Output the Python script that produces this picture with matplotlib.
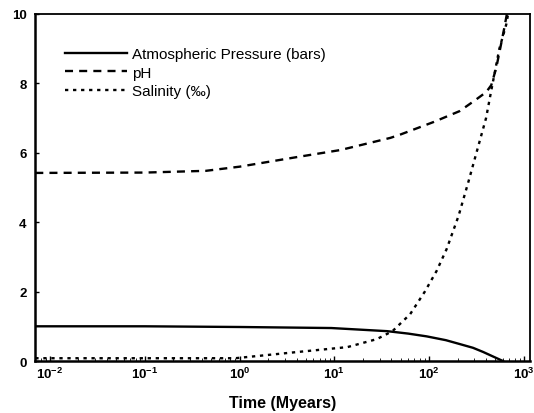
#!/usr/bin/env python3
"""Atmospheric pressure, pH and salinity over time (log scale)."""

import matplotlib
matplotlib.use("Agg")
import matplotlib.pyplot as plt

# Values (time in Myears)
pressure_t = [0.007, 0.1, 1, 9.3, 36, 60, 94, 150, 209, 290, 371, 480, 600]
pressure_v = [1.0, 1.0, 0.98, 0.95, 0.86, 0.79, 0.71, 0.6, 0.49, 0.38, 0.26, 0.12, 0.0]

ph_t = [0.007, 0.1, 0.44, 1, 4.1, 11.6, 39, 49, 112, 209, 300, 400, 452, 510, 575, 620, 660]
ph_v = [5.42, 5.43, 5.48, 5.6, 5.88, 6.08, 6.43, 6.52, 6.89, 7.2, 7.5, 7.75, 7.95, 8.45, 9.15, 9.6, 10.0]

sal_t = [0.007, 0.9, 4.1, 13.7, 28, 41, 63, 90, 120, 153, 204, 259, 338, 398, 452, 550, 650, 680]
sal_v = [0.08, 0.08, 0.26, 0.40, 0.63, 0.86, 1.35, 2.0, 2.6, 3.23, 4.18, 5.16, 6.3, 7.0, 7.8, 9.0, 9.7, 10.0]

series_labels = ["Atmospheric Pressure (bars)", "pH", "Salinity (\u2030)"]
y_ticks = [0, 2, 4, 6, 8, 10]

plt.rcParams["font.family"] = ["Liberation Sans", "DejaVu Sans"]
plt.rcParams["mathtext.fontset"] = "custom"
plt.rcParams["mathtext.rm"] = "Liberation Sans:bold"
plt.rcParams["mathtext.it"] = "Liberation Sans:bold"

fig = plt.figure(figsize=(5.34, 4.14), dpi=100)
ax = fig.add_axes([0.0655, 0.1256, 0.927, 0.8382])

ax.plot(pressure_t, pressure_v, color="black", lw=1.7, ls="-", label=series_labels[0])
ax.plot(ph_t, ph_v, color="black", lw=1.7, ls=(0, (3.4, 2.6)), label=series_labels[1])
ax.plot(sal_t, sal_v, color="black", lw=1.7, ls=(0, (1.4, 2.0)), label=series_labels[2])

ax.set_xscale("log")
ax.set_xlim(0.00695, 1157)
ax.set_ylim(0, 10)
ax.set_yticks(y_ticks)
ax.tick_params(axis="both", direction="in", labelsize=9.5, width=1)
ax.tick_params(axis="x", which="minor", direction="in", length=2)
ax.tick_params(axis="y", length=3, pad=6)
for side in ["left", "bottom"]:
    ax.spines[side].set_linewidth(1.8)
for side in ["top", "right"]:
    ax.spines[side].set_linewidth(1.3)

for lab in ax.get_yticklabels() + ax.get_xticklabels():
    lab.set_fontweight("bold")

ax.set_xlabel("Time (Myears)", fontsize=11.5, fontweight="bold", labelpad=10)

ax.legend(loc="upper left", bbox_to_anchor=(0.0606, 0.905), frameon=False,
          fontsize=11, handlelength=4.05, handletextpad=0.33,
          labelspacing=0.3, borderaxespad=0, borderpad=0)

fig.savefig("out.png", dpi=100)
